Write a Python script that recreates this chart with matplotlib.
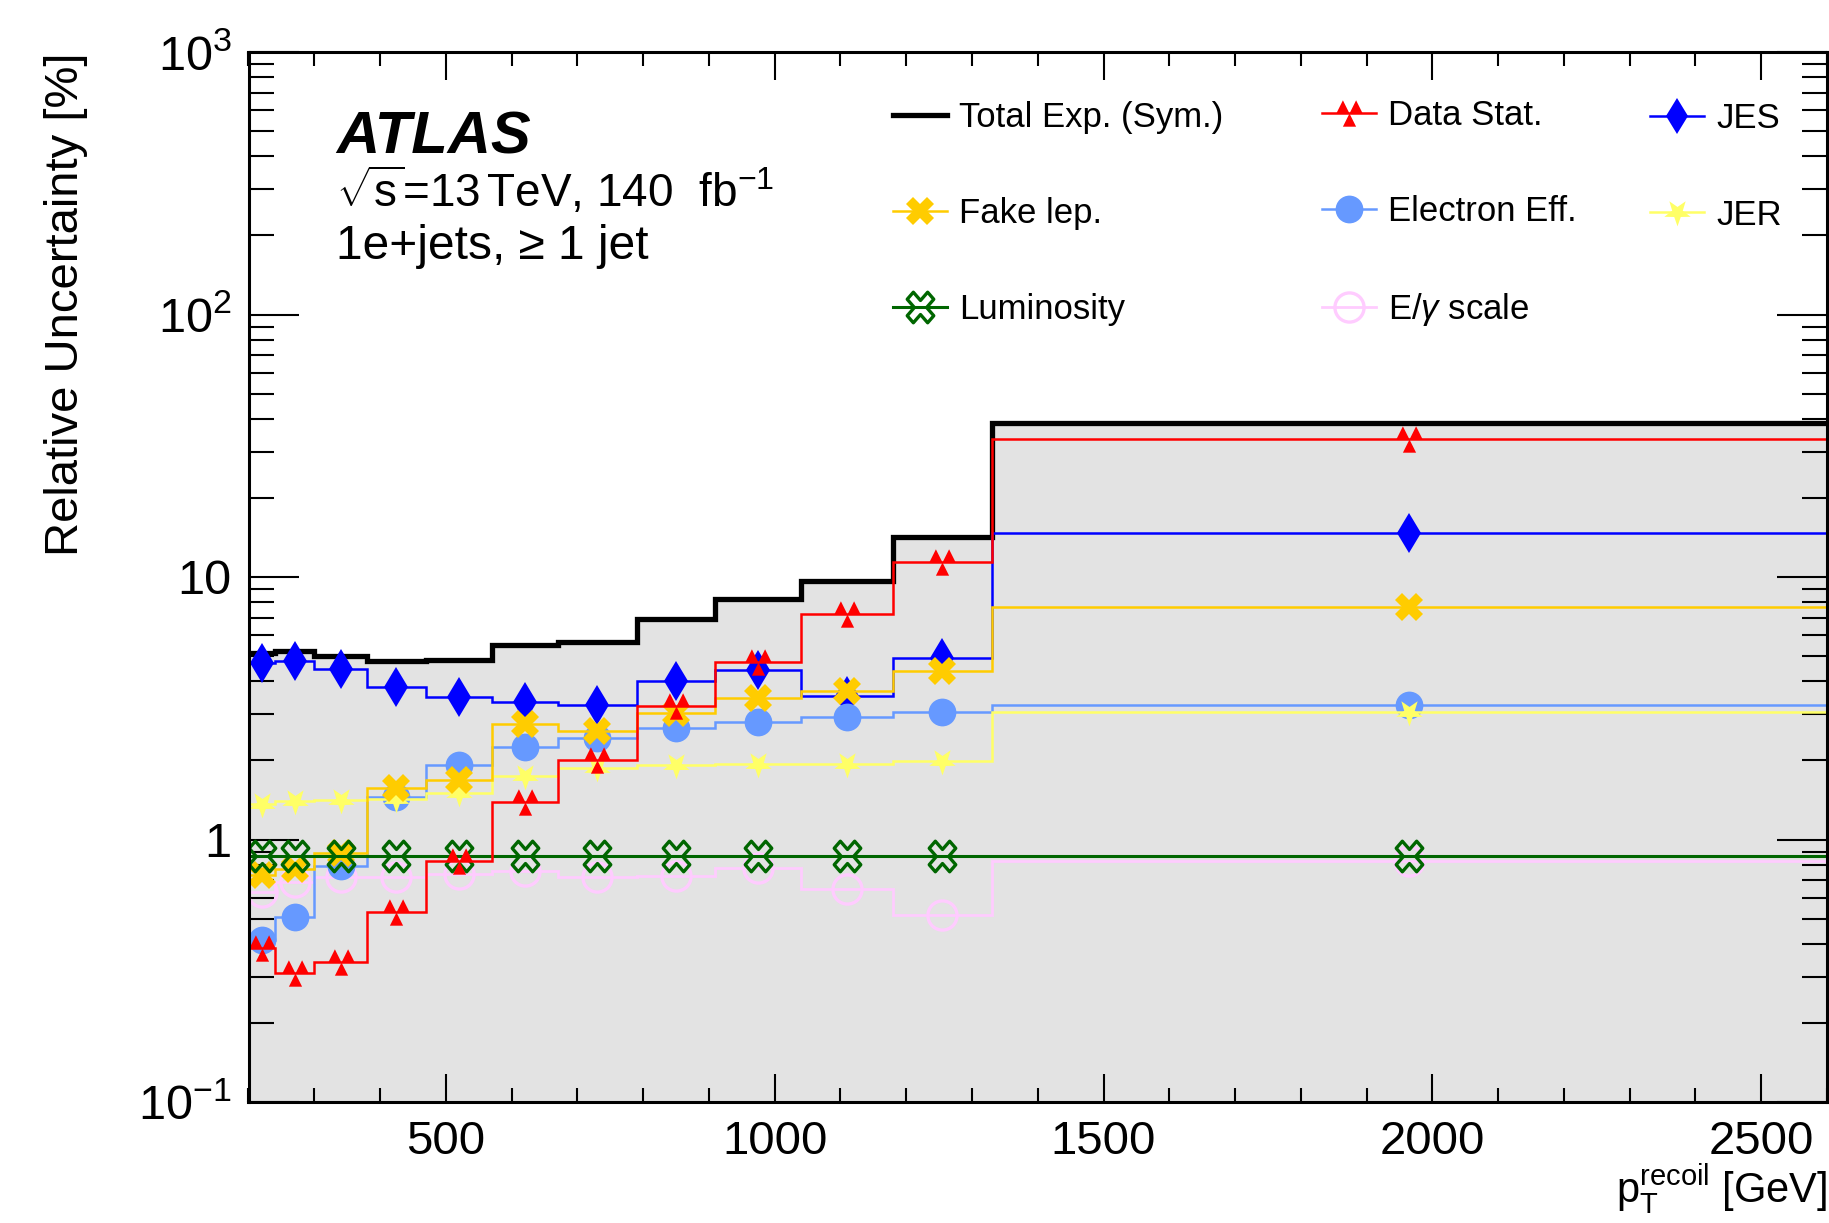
import numpy as np
import matplotlib
matplotlib.use('Agg')
import matplotlib.pyplot as plt
from matplotlib.path import Path
from matplotlib.lines import Line2D
from matplotlib.ticker import FixedLocator, FixedFormatter, MultipleLocator, LogLocator, NullFormatter

plt.rcParams['font.family'] = ['Liberation Sans', 'DejaVu Sans']
plt.rcParams['mathtext.fontset'] = 'custom'
plt.rcParams['mathtext.rm'] = 'Liberation Sans'
plt.rcParams['mathtext.it'] = 'Liberation Sans:italic'
plt.rcParams['mathtext.bf'] = 'Liberation Sans:bold'
plt.rcParams['mathtext.sf'] = 'Liberation Sans'

# ---------------- data ----------------
bin_edges = [200, 240, 300, 380, 470, 570, 670, 790, 910, 1040, 1180, 1330, 2600]
total_exp = [5.15, 5.24, 5.00, 4.80, 4.83, 5.51, 5.67, 6.90, 8.27, 9.66, 14.2, 38.5]
data_stat = [0.385, 0.311, 0.342, 0.528, 0.828, 1.385, 2.00, 3.22, 4.75, 7.21, 11.4, 33.5]
jes = [4.72, 4.80, 4.45, 3.82, 3.48, 3.35, 3.25, 4.00, 4.43, 3.53, 4.93, 14.75]
fake_lep = [0.73, 0.77, 0.886, 1.57, 1.69, 2.75, 2.59, 3.02, 3.47, 3.69, 4.38, 7.69]
electron_eff = [0.414, 0.508, 0.795, 1.456, 1.92, 2.26, 2.44, 2.65, 2.81, 2.92, 3.05, 3.25]
jer = [1.36, 1.40, 1.42, 1.43, 1.51, 1.74, 1.87, 1.92, 1.94, 1.94, 1.99, 3.05]
luminosity = [0.865, 0.865, 0.865, 0.865, 0.865, 0.865, 0.865, 0.865, 0.865, 0.865, 0.865, 0.865]
egamma_scale = [0.63, 0.69, 0.72, 0.72, 0.737, 0.76, 0.72, 0.726, 0.777, 0.65, 0.516, 0.83]

xticks = [500, 1000, 1500, 2000, 2500]
xticklabels = ['500', '1000', '1500', '2000', '2500']
yticks = [0.1, 1, 10, 100, 1000]
yticklabels = [r'$10^{-1}$', '1', '10', r'$10^{2}$', r'$10^{3}$']

labels = ['Total Exp. (Sym.)', 'Data Stat.', 'JES', 'Fake lep.', 'Electron Eff.', 'JER',
          'Luminosity', r'E/$\gamma$ scale']

# ---------------- markers ----------------
M, L, C = Path.MOVETO, Path.LINETO, Path.CLOSEPOLY
tri3_marker = Path([(-1, 0), (-0.5, 1), (0, 0), (-1, 0),
                    (0, 0), (0.5, 1), (1, 0), (0, 0),
                    (-0.5, -1), (0, 0), (0.5, -1), (-0.5, -1)],
                   [M, L, L, C] * 3)

sv = []
for k in range(5):
    a_out = np.deg2rad(-90 + 72 * k)
    a_in = np.deg2rad(-90 + 36 + 72 * k)
    sv.append((np.cos(a_out), np.sin(a_out)))
    sv.append((0.4 * np.cos(a_in), 0.4 * np.sin(a_in)))
sv.append(sv[0])
star_marker = Path(sv, [M] + [L] * 9 + [C])

a_w = 0.3
plus = [(a_w, 1), (a_w, a_w), (1, a_w), (1, -a_w), (a_w, -a_w), (a_w, -1), (-a_w, -1),
        (-a_w, -a_w), (-1, -a_w), (-1, a_w), (-a_w, a_w), (-a_w, 1)]
xv = [((x - y) / np.sqrt(2), 1.15 * (x + y) / np.sqrt(2)) for x, y in plus]
xv.append(xv[0])
openx_marker = Path(xv, [M] + [L] * 11 + [C])

# ---------------- figure ----------------
W, H = 1829, 1223
fig = plt.figure(figsize=(W / 100, H / 100), dpi=100)
ax = fig.add_axes([248.5 / W, 1 - 1102 / H, (1827 - 248.5) / W, (1102 - 52) / H])
ax.set_yscale('log')

edges = np.array(bin_edges)
centers = 0.5 * (edges[:-1] + edges[1:])

# total: gray fill + thick black line
ax.stairs(total_exp, edges, fill=True, baseline=1e-3, color='#e3e3e3', zorder=1)
ax.stairs(total_exp, edges, baseline=None, color='black', lw=3.8, zorder=2)

series = [
    # values, color, marker, ms, filled, lw, zorder
    (egamma_scale, '#ffccff', 'o', 21, False, 2.0, 3),
    (jes, '#0000ff', 'd', 20, True, 1.8, 4),
    (electron_eff, '#6699ff', 'o', 20, True, 1.8, 5),
    (jer, '#ffff66', star_marker, 20, True, 1.8, 6),
    (fake_lep, '#ffcc00', 'X', 20, True, 1.8, 7),
    (luminosity, '#006600', openx_marker, 22, False, 2.2, 8),
    (data_stat, '#ff0000', tri3_marker, 19, True, 1.8, 9),
]
for vals, col, mk, ms, filled, lw, z in series:
    ax.stairs(vals, edges, baseline=None, color=col, lw=lw, zorder=z)
    if filled:
        ax.plot(centers, vals, ls='none', marker=mk, ms=ms, color=col, mec=col, mew=0, zorder=z)
    else:
        ax.plot(centers, vals, ls='none', marker=mk, ms=ms, mfc='none', mec=col, mew=2.4, zorder=z)

ax.set_xlim(bin_edges[0], bin_edges[-1])
ax.set_ylim(0.1, 1000)

# ticks
ax.xaxis.set_major_locator(FixedLocator(xticks))
ax.xaxis.set_major_formatter(FixedFormatter(xticklabels))
ax.xaxis.set_minor_locator(MultipleLocator(100))
ax.yaxis.set_major_locator(FixedLocator(yticks))
ax.yaxis.set_major_formatter(FixedFormatter(yticklabels))
ax.yaxis.set_minor_locator(LogLocator(base=10, subs=[2, 3, 4, 5, 6, 7, 8, 9], numticks=20))
ax.yaxis.set_minor_formatter(NullFormatter())
ax.tick_params(which='both', direction='in', top=True, right=True, width=1.5, labelsize=34)
ax.tick_params(axis='x', which='major', length=20, pad=13)
ax.tick_params(axis='x', which='minor', length=10)
ax.tick_params(axis='y', which='major', length=36, pad=12, labelsize=35)
ax.tick_params(axis='y', which='minor', length=18)
for s in ax.spines.values():
    s.set_linewidth(2.2)
    s.set_zorder(20)

ax.set_ylabel('Relative Uncertainty [%]', fontsize=34, loc='top')
ax.yaxis.set_label_coords((88 - 248.5) / 1578.5, 1.0)
ax.set_xlabel(r'$\mathrm{p}_{\mathrm{T}}^{\mathrm{recoil}}$ [GeV]', fontsize=30, loc='right')
ax.xaxis.set_label_coords(1.0, -(1162 - 1102) / 1050)

# text labels
fig.text(336 / W, 1 - 154 / H, 'ATLAS', fontsize=43, fontweight='bold', fontstyle='italic', va='baseline')
fig.text(336 / W, 1 - 207 / H, r'$\sqrt{\mathrm{s}}$=13$\,$TeV, 140  fb$^{-1}$', fontsize=33, va='baseline')
fig.text(336 / W, 1 - 259 / H, '1e+jets, \u2265 1 jet', fontsize=34.5, va='baseline')

# legend
def handle(col, mk, ms, filled, lw):
    if mk is None:
        return Line2D([], [], color=col, lw=lw)
    if filled:
        return Line2D([], [], color=col, lw=lw, marker=mk, ms=ms, mew=0)
    return Line2D([], [], color=col, lw=lw, marker=mk, ms=ms, mfc='none', mec=col, mew=2.4)

h_total = handle('black', None, 0, True, 3.8)
h_stat = handle('#ff0000', tri3_marker, 19, True, 1.8)
h_jes = handle('#0000ff', 'd', 18, True, 1.8)
h_fake = handle('#ffcc00', 'X', 20, True, 1.8)
h_el = handle('#6699ff', 'o', 20, True, 1.8)
h_jer = handle('#ffff66', star_marker, 20, True, 1.8)
h_lumi = handle('#006600', openx_marker, 22, False, 2.2)
h_eg = handle('#ffccff', 'o', 21, False, 2.0)

cols = [
    ([h_total, h_fake, h_lumi], [labels[0], labels[3], labels[6]], 893, 213.5),
    ([h_stat, h_el, h_eg], [labels[1], labels[4], labels[7]], 1322, 213.5),
    ([h_jes, h_jer], [labels[2], labels[5]], 1650, 167.0),
]
for hs, ls, x0, yc in cols:
    leg = fig.legend(hs, ls, loc='center left', bbox_to_anchor=(x0 / W, 1 - yc / H),
                     bbox_transform=fig.transFigure, frameon=False, fontsize=25,
                     borderpad=0, borderaxespad=0, handlelength=1.56, handletextpad=0.35,
                     labelspacing=1.82, numpoints=1)

fig.savefig('out.png', dpi=100)
